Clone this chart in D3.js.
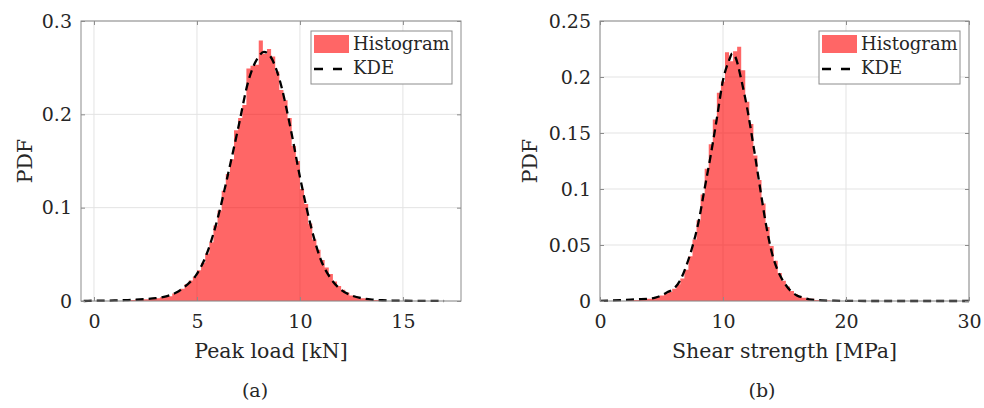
<!DOCTYPE html>
<html>
<head>
<meta charset="utf-8">
<script src="https://cdn.jsdelivr.net/npm/d3@7"></script>
<style>
  body { margin: 0; background: #fff; }
  svg text { font-family: "DejaVu Serif", "Liberation Serif", serif; fill: #262626; }
</style>
</head>
<body>
<div id="chart"></div>
<script>
// panel (a) peak load
const loadBinStart = 1.6;
const loadBinWidth = 0.2;
const loadHist = [
  0.001, 0.001, 0.002, 0.001, 0.002, 0.002, 0.003, 0.003, 0.004, 0.005,
  0.005, 0.008, 0.010, 0.013, 0.018, 0.022, 0.026, 0.033, 0.041, 0.051,
  0.063, 0.081, 0.097, 0.118, 0.136, 0.152, 0.183, 0.196, 0.210, 0.249,
  0.252, 0.253, 0.279, 0.265, 0.270, 0.262, 0.246, 0.226, 0.215, 0.196,
  0.166, 0.150, 0.120, 0.104, 0.083, 0.066, 0.055, 0.044, 0.036, 0.029,
  0.021, 0.016, 0.012, 0.009, 0.006, 0.005, 0.003, 0.003, 0.002, 0.001,
  0.001, 0.001
];
const loadKdeX = [-0.5, 0, 0.5, 1, 1.5, 2, 2.5, 3, 3.5, 4, 4.5, 5, 5.5, 6, 6.5, 7, 7.5, 8, 8.25, 8.5,
  9, 9.5, 10, 10.5, 11, 11.5, 12, 12.5, 13, 13.5, 14, 14.5, 15, 15.5, 16, 16.5, 17];
const loadKdeY = [0, 0.0003, 0.0004, 0.0006, 0.0009, 0.0013, 0.002, 0.003, 0.005, 0.009, 0.017, 0.029,
  0.052, 0.088, 0.135, 0.185, 0.236, 0.262, 0.267, 0.264, 0.238, 0.19, 0.133, 0.083, 0.045, 0.024,
  0.012, 0.006, 0.003, 0.0015, 0.0008, 0.0005, 0.0003, 0.0002, 0.0001, 0.0001, 0];
const loadXTicks = [0, 5, 10, 15];
const loadYTicks = [0, 0.1, 0.2, 0.3];

// panel (b) shear strength
const shearBinStart = 2.24;
const shearBinWidth = 0.33;
const shearHist = [
  0.001, 0.001, 0.001, 0.002, 0.002, 0.002, 0.003, 0.004, 0.005, 0.007,
  0.008, 0.011, 0.015, 0.020, 0.028, 0.040, 0.055, 0.072, 0.095, 0.118,
  0.140, 0.162, 0.186, 0.196, 0.222, 0.214, 0.223, 0.227, 0.206, 0.178,
  0.158, 0.130, 0.108, 0.087, 0.066, 0.049, 0.036, 0.025, 0.018, 0.013,
  0.009, 0.006, 0.004, 0.003, 0.002, 0.002, 0.001, 0.001, 0.001, 0.0005
];
const shearKdeX = [0, 1, 2, 3, 4, 4.5, 5, 5.5, 6, 6.5, 7, 7.5, 8, 8.5, 9, 9.5, 10, 10.5, 10.75, 11,
  11.5, 12, 12.5, 13, 13.5, 14, 14.5, 15, 15.5, 16, 16.5, 17, 18, 19, 20, 22, 25, 28, 30];
const shearKdeY = [0.0002, 0.0005, 0.001, 0.0015, 0.002, 0.003, 0.005, 0.008, 0.011, 0.018, 0.031,
  0.048, 0.07, 0.1, 0.13, 0.163, 0.197, 0.215, 0.221, 0.218, 0.197, 0.17, 0.137, 0.102, 0.068, 0.042,
  0.026, 0.016, 0.009, 0.005, 0.003, 0.0015, 0.0006, 0.0003, 0.0001, 0, 0, 0, 0];
const shearXTicks = [0, 10, 20, 30];
const shearYTicks = [0, 0.05, 0.1, 0.15, 0.2, 0.25];

const legendLabels = ["Histogram", "KDE"];

const W = 984, H = 408;
const svg = d3.select("#chart").append("svg").attr("width", W).attr("height", H);

function drawPanel(p) {
  const x = d3.scaleLinear().domain(p.xDomain).range([p.left, p.right]);
  const y = d3.scaleLinear().domain(p.yDomain).range([p.bottom, p.top]);
  const g = svg.append("g");

  // grid
  g.append("g").selectAll("line").data(p.xTicks).enter().append("line")
    .attr("x1", d => x(d)).attr("x2", d => x(d))
    .attr("y1", p.top).attr("y2", p.bottom)
    .attr("stroke", "#e3e3e3").attr("stroke-width", 1);
  g.append("g").selectAll("line").data(p.yTicks).enter().append("line")
    .attr("x1", p.left).attr("x2", p.right)
    .attr("y1", d => y(d)).attr("y2", d => y(d))
    .attr("stroke", "#e3e3e3").attr("stroke-width", 1);

  // histogram as one stepped area
  const steps = p.hist.map((v, i) => [p.binStart + i * p.binWidth, v]);
  steps.push([p.binStart + p.hist.length * p.binWidth, p.hist[p.hist.length - 1]]);
  const area = d3.area()
    .x(d => x(d[0])).y0(y(0)).y1(d => y(d[1]))
    .curve(d3.curveStepAfter);
  g.append("path").datum(steps)
    .attr("d", area)
    .attr("fill", "#ff0000").attr("fill-opacity", 0.6);

  // kde
  const line = d3.line().x(d => x(d[0])).y(d => y(d[1])).curve(d3.curveMonotoneX);
  g.append("path").datum(p.kdeX.map((v, i) => [v, p.kdeY[i]]))
    .attr("d", line)
    .attr("fill", "none").attr("stroke", "#000")
    .attr("stroke-width", 2.3).attr("stroke-dasharray", "8,5");

  // axes, ticks pointing inward
  const axisColor = "#8c8c8c";
  const bottomAxis = g.append("g").attr("transform", `translate(0,${p.bottom})`)
    .call(d3.axisBottom(x).tickValues(p.xTicks).tickSize(-4).tickPadding(14).tickFormat(d => String(d)));
  const leftAxis = g.append("g").attr("transform", `translate(${p.left},0)`)
    .call(d3.axisLeft(y).tickValues(p.yTicks).tickSize(-4).tickPadding(9).tickFormat(d => String(d)));
  const topAxis = g.append("g").attr("transform", `translate(0,${p.top})`)
    .call(d3.axisTop(x).tickValues(p.xTicks).tickSize(-4).tickFormat(""));
  const rightAxis = g.append("g").attr("transform", `translate(${p.right},0)`)
    .call(d3.axisRight(y).tickValues(p.yTicks).tickSize(-4).tickFormat(""));
  [bottomAxis, leftAxis, topAxis, rightAxis].forEach(a => {
    a.select(".domain").remove();
    a.selectAll("line").attr("stroke", axisColor);
    a.selectAll("text").attr("font-size", 19).attr("font-family", null);
  });
  g.append("rect")
    .attr("x", p.left).attr("y", p.top)
    .attr("width", p.right - p.left).attr("height", p.bottom - p.top)
    .attr("fill", "none").attr("stroke", axisColor).attr("stroke-width", 1);

  // labels
  g.append("text")
    .attr("x", (p.left + p.right) / 2).attr("y", 358)
    .attr("text-anchor", "middle").attr("font-size", 20.5)
    .text(p.xLabel);
  g.append("text")
    .attr("transform", `translate(${p.yLabelX},${(p.top + p.bottom) / 2}) rotate(-90)`)
    .attr("text-anchor", "middle").attr("font-size", 20.5)
    .text("PDF");
  g.append("text")
    .attr("x", p.captionX).attr("y", 397)
    .attr("text-anchor", "middle").attr("font-size", 19)
    .text(p.caption);

  // legend
  const lx = p.right - 9 - 141, ly = p.top + 10;
  const leg = g.append("g").attr("transform", `translate(${lx},${ly})`);
  leg.append("rect").attr("width", 141).attr("height", 53)
    .attr("fill", "#fff").attr("stroke", axisColor).attr("stroke-width", 1);
  leg.append("rect").attr("x", 3).attr("y", 4).attr("width", 35).attr("height", 18)
    .attr("fill", "#ff0000").attr("fill-opacity", 0.6);
  leg.append("line").attr("x1", 3).attr("x2", 32).attr("y1", 38).attr("y2", 38)
    .attr("stroke", "#000").attr("stroke-width", 2.3).attr("stroke-dasharray", "9,10");
  leg.selectAll("text.lbl").data(legendLabels).enter().append("text")
    .attr("class", "lbl")
    .attr("x", 42).attr("y", (d, i) => 19 + i * 24)
    .attr("font-size", 18)
    .text(d => d);
}

drawPanel({
  left: 81, right: 461, top: 21, bottom: 301,
  xDomain: [-0.63, 17.82], yDomain: [0, 0.3],
  xTicks: loadXTicks, yTicks: loadYTicks,
  binStart: loadBinStart, binWidth: loadBinWidth, hist: loadHist,
  kdeX: loadKdeX, kdeY: loadKdeY,
  xLabel: "Peak load [kN]", yLabelX: 32, caption: "(a)", captionX: 255
});

drawPanel({
  left: 600, right: 969, top: 21, bottom: 301,
  xDomain: [0, 30], yDomain: [0, 0.25],
  xTicks: shearXTicks, yTicks: shearYTicks,
  binStart: shearBinStart, binWidth: shearBinWidth, hist: shearHist,
  kdeX: shearKdeX, kdeY: shearKdeY,
  xLabel: "Shear strength [MPa]", yLabelX: 537, caption: "(b)", captionX: 762
});
</script>
</body>
</html>
